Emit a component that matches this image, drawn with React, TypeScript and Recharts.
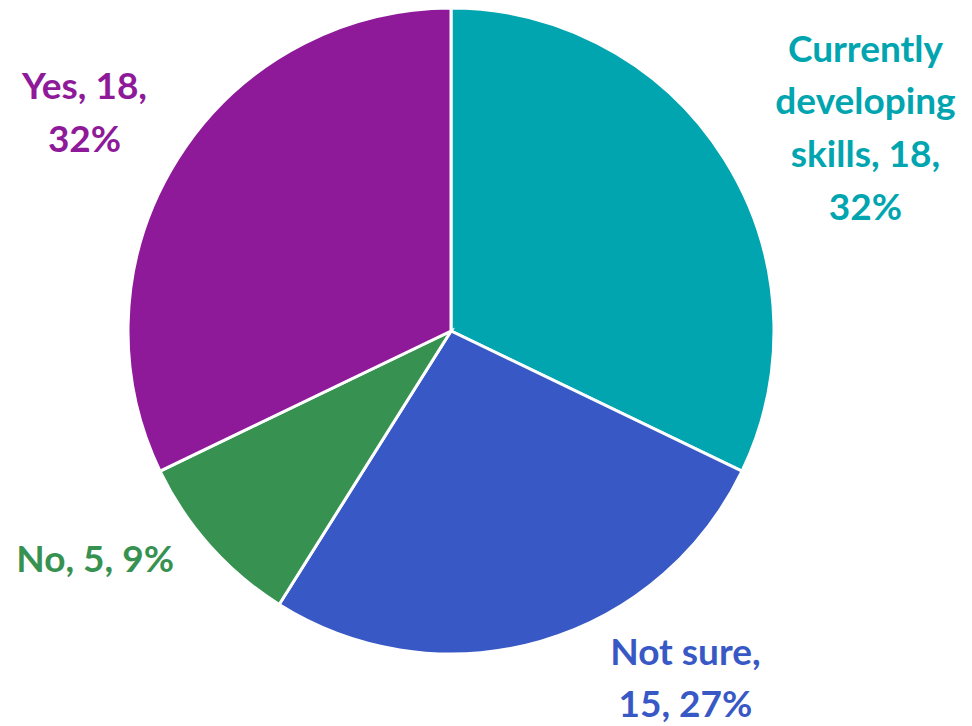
import React from "react";
import { PieChart, Pie, Cell } from "recharts";

const categories = ["Currently developing skills", "Not sure", "No", "Yes"];
const values = [18, 15, 5, 18];
const colors = ["#00A5B0", "#3859C5", "#379252", "#8E1A9A"];

// label layout: wrap width (chars) and offset from slice edge anchor
const labelWrap = [11, 9, 20, 8];
const labelOffset = [
  { dx: 141, dy: -33 },
  { dx: 145, dy: 35 },
  { dx: -115, dy: 11 },
  { dx: -93, dy: -48 },
];

const data = categories.map((name, i) => ({ name, value: values[i] }));

const RAD = Math.PI / 180;
const LINE_H = 52.7;

function wrap(text: string, max: number): string[] {
  const words = text.split(" ");
  const lines: string[] = [];
  let cur = "";
  for (const w of words) {
    if (!cur) cur = w;
    else if ((cur + " " + w).length <= max) cur = cur + " " + w;
    else {
      lines.push(cur);
      cur = w;
    }
  }
  if (cur) lines.push(cur);
  return lines;
}

const renderLabel = (props: any) => {
  const { cx, cy, midAngle, outerRadius, index, percent, name, value } = props;
  const ax = cx + outerRadius * Math.cos(-midAngle * RAD);
  const ay = cy + outerRadius * Math.sin(-midAngle * RAD);
  const x = ax + labelOffset[index].dx;
  const y = ay + labelOffset[index].dy;
  const text = `${name}, ${value}, ${Math.round(percent * 100)}%`;
  const lines = wrap(text, labelWrap[index]);
  const y0 = y - ((lines.length - 1) / 2) * LINE_H;
  return (
    <text
      x={x}
      y={y0}
      textAnchor="middle"
      fill={colors[index]}
      fontFamily="Lato, 'Open Sans', sans-serif"
      fontWeight="bold"
      fontSize={37}
    >
      {lines.map((l, i) => (
        <tspan key={i} x={x} y={y0 + i * LINE_H} dominantBaseline="central">
          {l}
        </tspan>
      ))}
    </text>
  );
};

export default function App() {
  return (
    <div style={{ position: "absolute", left: 0, top: 0, width: 972, height: 726, background: "#fff" }}>
      <PieChart width={972} height={726} margin={{ top: 0, right: 0, bottom: 0, left: 0 }}>
        <Pie
          data={data}
          dataKey="value"
          nameKey="name"
          cx={451}
          cy={331}
          outerRadius={323}
          startAngle={90}
          endAngle={-270}
          stroke="#ffffff"
          strokeWidth={3}
          label={renderLabel}
          labelLine={false}
          isAnimationActive={false}
        >
          {data.map((d, i) => (
            <Cell key={d.name} fill={colors[i]} />
          ))}
        </Pie>
      </PieChart>
    </div>
  );
}
